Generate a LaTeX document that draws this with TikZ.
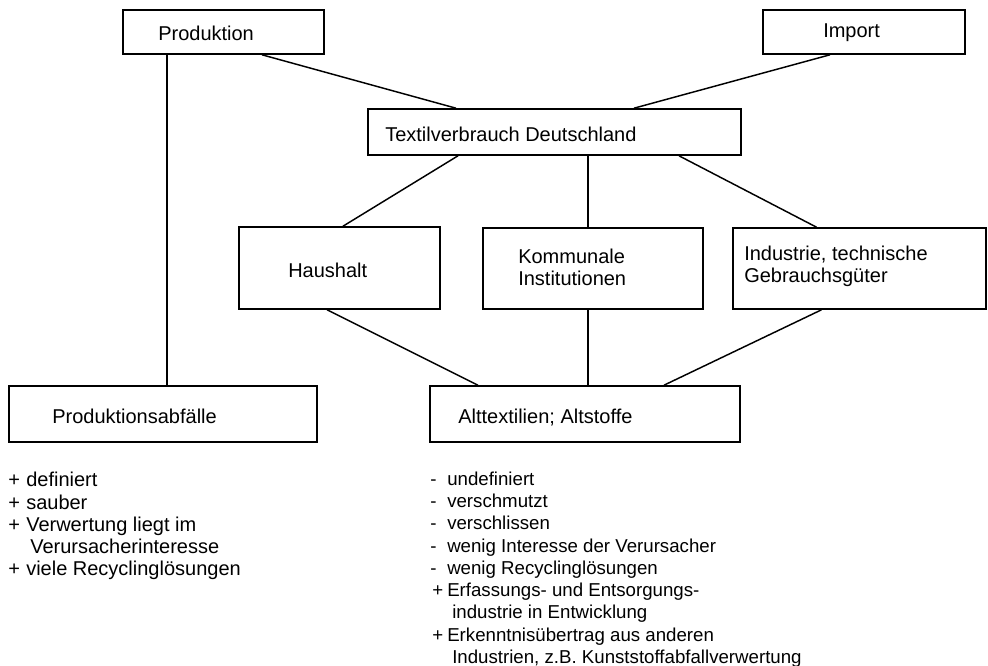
\documentclass[tikz,border=0pt]{standalone}
\usepackage{fontspec}
\setmainfont{Liberation Sans}
\usetikzlibrary{fit,calc}
\newcommand{\mkbox}[2]{\makebox[#1][l]{#2}}
\begin{document}
\begin{tikzpicture}[x=0.75pt,y=-0.75pt,
  box/.style={draw=black,line width=1.2pt,inner sep=0pt,fill=none},
  lbl/.style={inner sep=0pt,font=\fontsize{15}{16.7}\selectfont,align=left},
  rlbl/.style={inner sep=0pt,font=\fontsize{14}{16.7}\selectfont,align=left},
  conn/.style={draw=black,line width=1.1pt},
  thick conn/.style={draw=black,line width=1.9pt}]
\useasboundingbox (0,0) rectangle (988,666);
% boxes
\node[box,fit={(123,10) (324,54)}] (prod) {};
\node[box,fit={(763,10) (965,54)}] (imp) {};
\node[box,fit={(368,109) (741,155)}] (tex) {};
\node[box,fit={(239,227) (440,309)}] (haus) {};
\node[box,fit={(483,228) (703,309)}] (komm) {};
\node[box,fit={(733,228) (986,309)}] (ind) {};
\node[box,fit={(9,386) (317,442)}] (pabf) {};
\node[box,fit={(430,386) (740,442)}] (alt) {};
% labels
\node[lbl,anchor=base west] (prodt) at (158,41) {Produktion};
\node[lbl,anchor=base west] (impt) at (823,38) {Import};
\node[lbl,anchor=base west] (text) at (385,142) {Textilverbrauch Deutschland};
\node[lbl,anchor=base west] (haust) at (288,278) {Haushalt};
\node[lbl,anchor=north west] (kommt) at (518,248.5) {Kommunale\\Institutionen};
\node[lbl,anchor=north west] (indt) at (744,245.5) {Industrie, technische\\Gebrauchsgüter};
\node[lbl,anchor=base west] (pabft) at (52,423) {Produktionsabfälle};
\node[lbl,anchor=base west] (altt) at (458,423) {Alttextilien; Altstoffe};
% lists
\node[lbl,anchor=north west] (plist) at (8,472) {%
\mkbox{13.5pt}{+}definiert\\
\mkbox{13.5pt}{+}sauber\\
\mkbox{13.5pt}{+}Verwertung liegt im\\
\hspace*{16.5pt}Verursacherinteresse\\
\mkbox{13.5pt}{+}viele Recyclinglösungen};
\node[rlbl,anchor=north west] (mlist) at (430,471.5) {%
\mkbox{12.75pt}{-}undefiniert\\
\mkbox{12.75pt}{-}verschmutzt\\
\mkbox{12.75pt}{-}verschlissen\\
\mkbox{12.75pt}{-}wenig Interesse der Verursacher\\
\mkbox{12.75pt}{-}wenig Recyclinglösungen\\
\hspace*{1.5pt}\mkbox{11.25pt}{+}Erfassungs- und Entsorgungs-\\
\hspace*{16.5pt}industrie in Entwicklung\\
\hspace*{1.5pt}\mkbox{11.25pt}{+}Erkenntnisübertrag aus anderen\\
\hspace*{16.5pt}Industrien, z.B. Kunststoffabfallverwertung};
% connectors
\draw[conn] ($(prod.south)+(38.5,0)$) -- ($(tex.north)+(-98.5,0)$);
\draw[conn] ($(imp.south)+(-34,0)$) -- ($(tex.north)+(79.5,0)$);
\draw[conn] ($(tex.south)+(-96.5,0)$) -- ($(haus.north)+(3.5,0)$);
\draw[conn] ($(tex.south)+(33.5,0)$) -- ($(komm.north)+(-5,0)$);
\draw[conn] ($(tex.south)+(124.5,0)$) -- ($(ind.north)+(-43,0)$);
\draw[thick conn] ($(prod.south)+(-56.5,0)$) -- ($(pabf.north)+(4,0)$);
\draw[conn] ($(haus.south)+(-12.5,0)$) -- ($(alt.north)+(-107,0)$);
\draw[conn] ($(komm.south)+(-5,0)$) -- ($(alt.north)+(3,0)$);
\draw[conn] ($(ind.south)+(-38,0)$) -- ($(alt.north)+(79,0)$);
\end{tikzpicture}
\end{document}
